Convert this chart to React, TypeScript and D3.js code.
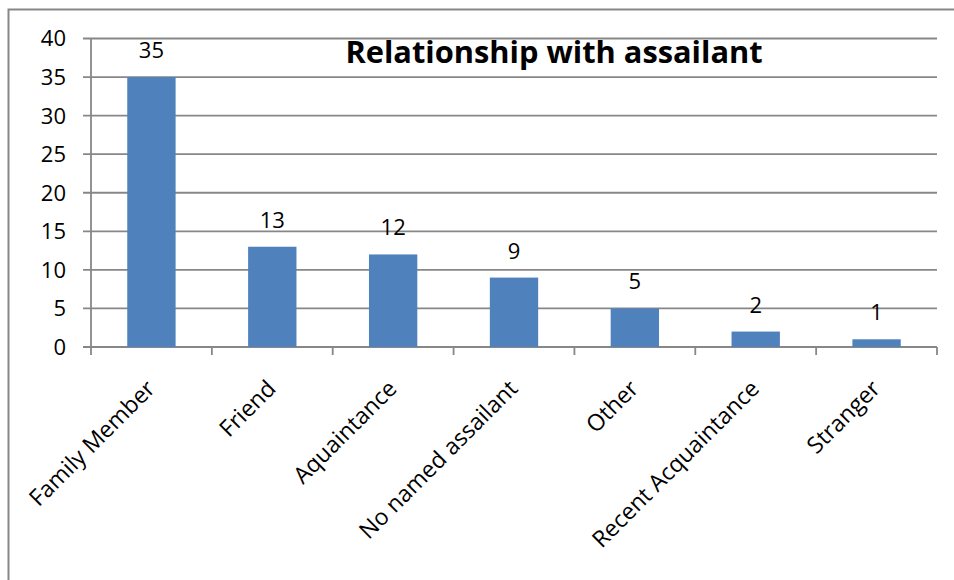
import React from "react";
import * as d3 from "d3";

const categories = [
  "Family Member",
  "Friend",
  "Aquaintance",
  "No named assailant",
  "Other",
  "Recent Acquaintance",
  "Stranger",
];
const counts = [35, 13, 12, 9, 5, 2, 1];
const yTicks = [0, 5, 10, 15, 20, 25, 30, 35, 40];
const title = "Relationship with assailant";

const W = 954;
const H = 580;
const plot = { left: 91, right: 937, top: 38.5, bottom: 347 };
const FONT = "'Open Sans', Lato, sans-serif";
const GRID = "#878787";
const BAR = "#4F81BD";

export default function App() {
  const x = d3
    .scaleBand<string>()
    .domain(categories)
    .range([plot.left, plot.right])
    .paddingInner(0.6)
    .paddingOuter(0.3);
  const step = (plot.right - plot.left) / categories.length;
  const y = d3.scaleLinear().domain([0, 40]).range([plot.bottom, plot.top]);

  return (
    <svg
      width={W}
      height={H}
      style={{ position: "fixed", left: 0, top: 0, background: "#fff" }}
      fontFamily={FONT}
    >
      <rect x={0} y={0} width={W} height={H} fill="#fff" />
      {/* chart frame */}
      <rect x={8.5} y={9.5} width={W + 20} height={H + 20} fill="none" stroke={GRID} strokeWidth={2} />

      {/* horizontal gridlines */}
      {yTicks.map((t) => (
        <line
          key={"g" + t}
          x1={plot.left - 8}
          x2={plot.right}
          y1={y(t)}
          y2={y(t)}
          stroke={GRID}
          strokeWidth={1.8}
        />
      ))}

      {/* y axis */}
      <line x1={plot.left} x2={plot.left} y1={plot.top} y2={plot.bottom} stroke={GRID} strokeWidth={1.8} />
      {yTicks.map((t) => (
        <text
          key={"yl" + t}
          x={66}
          y={y(t)}
          dy="0.36em"
          textAnchor="end"
          fontSize={22}
          fill="#000"
        >
          {t}
        </text>
      ))}

      {/* category tick marks */}
      {d3.range(categories.length + 1).map((i) => (
        <line
          key={"xt" + i}
          x1={plot.left + i * step}
          x2={plot.left + i * step}
          y1={plot.bottom}
          y2={plot.bottom + 8}
          stroke={GRID}
          strokeWidth={1.8}
        />
      ))}

      {/* bars */}
      {categories.map((c, i) => (
        <rect
          key={"b" + c}
          x={x(c)}
          y={y(counts[i])}
          width={x.bandwidth()}
          height={plot.bottom - y(counts[i])}
          fill={BAR}
        />
      ))}

      {/* value labels */}
      {categories.map((c, i) => (
        <text
          key={"v" + c}
          x={(x(c) as number) + x.bandwidth() / 2}
          y={y(counts[i]) - 19}
          textAnchor="middle"
          fontSize={22}
          fill="#000"
        >
          {counts[i]}
        </text>
      ))}

      {/* category labels */}
      {categories.map((c, i) => {
        const cx = (x(c) as number) + x.bandwidth() / 2;
        return (
          <text
            key={"c" + c}
            transform={`translate(${cx + 5},${plot.bottom + 43}) rotate(-45)`}
            textAnchor="end"
            fontSize={23}
            fill="#000"
          >
            {c}
          </text>
        );
      })}

      {/* title */}
      <text x={554} y={63} textAnchor="middle" fontSize={30.8} fontWeight="bold" fill="#000">
        {title}
      </text>
    </svg>
  );
}
